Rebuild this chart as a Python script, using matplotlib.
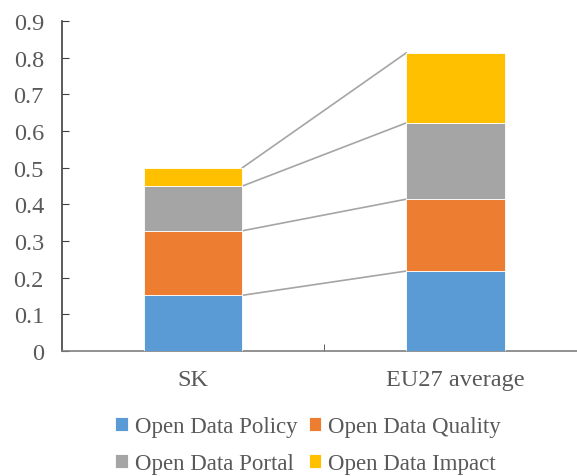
import matplotlib
matplotlib.use("Agg")
import matplotlib.pyplot as plt
import numpy as np

categories = ["SK", "EU27 average"]
series_names = ["Open Data Policy", "Open Data Quality", "Open Data Portal", "Open Data Impact"]
policy = [0.152, 0.218]
quality = [0.176, 0.196]
portal = [0.122, 0.208]
impact = [0.050, 0.191]
colors = ["#5B9BD5", "#ED7D31", "#A5A5A5", "#FFC000"]
yticks = [0, 0.1, 0.2, 0.3, 0.4, 0.5, 0.6, 0.7, 0.8, 0.9]
ytick_labels = ["0", "0.1", "0.2", "0.3", "0.4", "0.5", "0.6", "0.7", "0.8", "0.9"]

plt.rcParams['font.family'] = ['Liberation Serif', 'DejaVu Serif']
W, H = 577, 477
fig = plt.figure(figsize=(W / 100, H / 100), dpi=100)
ax = fig.add_axes([62 / W, 1 - 352 / H, (577 - 62) / W, (352 - 22) / H])

x = np.arange(len(categories))
width = 0.376
data = [policy, quality, portal, impact]
bottom = np.zeros(len(categories))
tops = []
handles = []
for vals, name, c in zip(data, series_names, colors):
    v = np.array(vals)
    h = ax.bar(x, v, width, bottom=bottom, color=c, label=name,
               edgecolor="white", linewidth=0.6, zorder=3)
    handles.append(h)
    bottom = bottom + v
    tops.append(bottom.copy())

for t in tops:
    ax.plot([x[0] + width / 2, x[1] - width / 2], [t[0], t[1]],
            color="#A5A5A5", linewidth=1.2, zorder=2)

ax.set_xlim(-0.5, 1.463)
ax.set_ylim(0, 0.9)
ax.set_yticks(yticks)
ax.set_yticklabels(ytick_labels)
ax.set_xticks(x)
ax.set_xticklabels(categories)
ax.set_xticks([0.5], minor=True)
ax.tick_params(axis='x', which='major', length=0, pad=13, labelsize=17.5, labelcolor="#595959")
ax.tick_params(axis='x', which='minor', length=5, direction='in', color="#404040")
ax.tick_params(axis='y', length=5, direction='in', labelsize=17.5, labelcolor="#595959",
               color="#404040", pad=13)

for s in ["top", "right"]:
    ax.spines[s].set_visible(False)
ax.spines["left"].set_color("#404040")
ax.spines["bottom"].set_color("#7F7F7F")
ax.spines["left"].set_linewidth(1.2)
ax.spines["bottom"].set_linewidth(1.2)

order = [0, 2, 1, 3]
leg = fig.legend([handles[i] for i in order], [series_names[i] for i in order],
                 loc="center", bbox_to_anchor=(308 / W, 1 - 446 / H),
                 ncol=2, frameon=False, fontsize=16.5, handlelength=0.55, handleheight=0.55,
                 handletextpad=0.3, columnspacing=0.5, labelspacing=0.7,
                 labelcolor="#595959")

fig.savefig("out.png", dpi=100)
